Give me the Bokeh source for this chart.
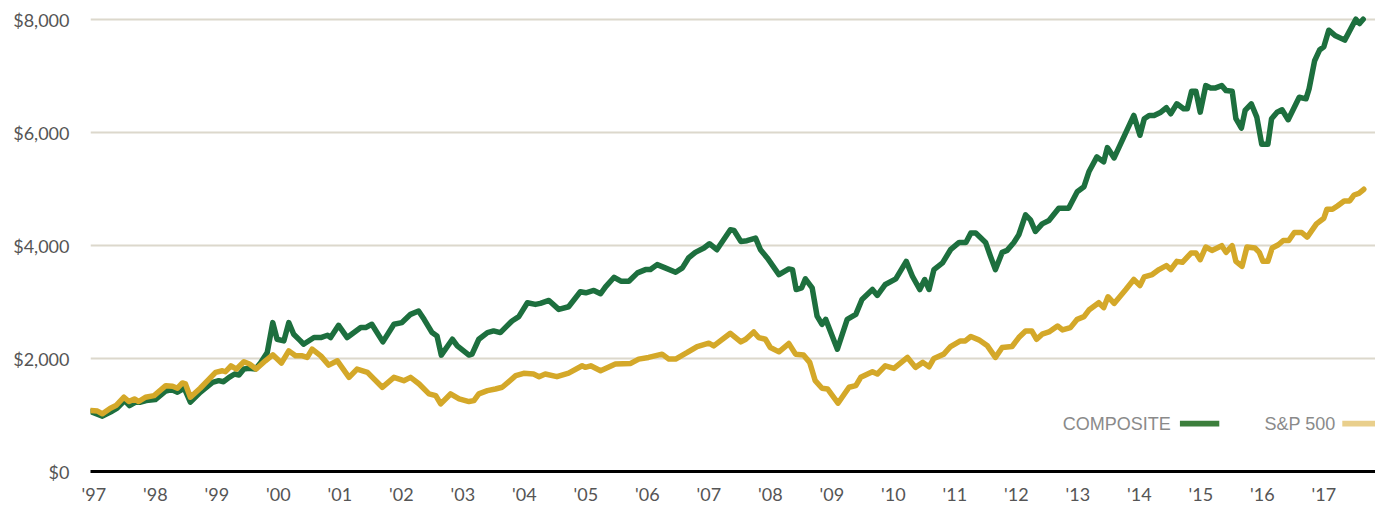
from bokeh.plotting import figure
from bokeh.models import FixedTicker, NumeralTickFormatter, Range1d, Label, BoxAnnotation, ColumnDataSource
from bokeh.embed import file_html
from bokeh.resources import INLINE

# ---------------- data (decimal year, growth of $1,000) ----------------
composite_t = [1996.95, 1997.14, 1997.27, 1997.38, 1997.50, 1997.58, 1997.68, 1997.76, 1997.85, 1998.00,
               1998.17, 1998.27, 1998.36, 1998.45, 1998.47, 1998.57, 1998.73, 1998.93, 1999.03, 1999.11,
               1999.20, 1999.29, 1999.36, 1999.44, 1999.52, 1999.63, 1999.71, 1999.82, 1999.91, 1999.98,
               2000.09, 2000.17, 2000.25, 2000.36, 2000.41, 2000.58, 2000.69, 2000.80, 2000.85, 2000.98,
               2001.12, 2001.23, 2001.34, 2001.42, 2001.52, 2001.70, 2001.88, 2002.01, 2002.15, 2002.28,
               2002.37, 2002.50, 2002.58, 2002.65, 2002.83, 2002.91, 2003.10, 2003.15, 2003.26, 2003.40,
               2003.50, 2003.61, 2003.80, 2003.91, 2004.05, 2004.18, 2004.26, 2004.40, 2004.56, 2004.72,
               2004.91, 2005.00, 2005.13, 2005.24, 2005.32, 2005.46, 2005.57, 2005.70, 2005.84, 2005.97,
               2006.05, 2006.16, 2006.29, 2006.46, 2006.57, 2006.67, 2006.78, 2006.92, 2007.01, 2007.13,
               2007.35, 2007.41, 2007.52, 2007.62, 2007.76, 2007.84, 2007.95, 2008.14, 2008.30, 2008.36,
               2008.42, 2008.51, 2008.57, 2008.68, 2008.76, 2008.84, 2008.90, 2009.09, 2009.25, 2009.39,
               2009.49, 2009.66, 2009.74, 2009.87, 2010.04, 2010.21, 2010.31, 2010.43, 2010.51, 2010.58,
               2010.66, 2010.80, 2010.93, 2011.07, 2011.18, 2011.26, 2011.34, 2011.50, 2011.58, 2011.66,
               2011.77, 2011.85, 2011.96, 2012.04, 2012.15, 2012.23, 2012.31, 2012.42, 2012.53, 2012.69,
               2012.85, 2012.99, 2013.10, 2013.18, 2013.31, 2013.42, 2013.48, 2013.59, 2013.91, 2014.01,
               2014.08, 2014.16, 2014.24, 2014.35, 2014.44, 2014.51, 2014.61, 2014.72, 2014.78, 2014.85,
               2014.92, 2014.99, 2015.08, 2015.16, 2015.24, 2015.34, 2015.41, 2015.51, 2015.57, 2015.66,
               2015.72, 2015.82, 2015.91, 2015.99, 2016.09, 2016.15, 2016.24, 2016.32, 2016.42, 2016.52,
               2016.60, 2016.71, 2016.76, 2016.85, 2016.93, 2017.00, 2017.08, 2017.19, 2017.34, 2017.52,
               2017.58, 2017.64]
composite_v = [1063, 981, 1052, 1122, 1256, 1168, 1228, 1228, 1256, 1274,
               1427, 1450, 1404, 1462, 1475, 1228, 1404, 1580, 1609, 1591,
               1668, 1727, 1709, 1815, 1827, 1815, 1921, 2109, 2638, 2343,
               2314, 2638, 2432, 2314, 2255, 2373, 2373, 2414, 2373, 2590,
               2373, 2461, 2550, 2550, 2608, 2296, 2608, 2638, 2784, 2842,
               2696, 2461, 2402, 2062, 2343, 2226, 2062, 2079, 2343, 2461,
               2490, 2461, 2667, 2743, 2990, 2960, 2978, 3031, 2872, 2919,
               3184, 3166, 3207, 3149, 3272, 3441, 3371, 3371, 3519, 3577,
               3577, 3665, 3607, 3530, 3607, 3783, 3882, 3959, 4035, 3929,
               4282, 4270, 4076, 4088, 4135, 3929, 3783, 3489, 3589, 3577,
               3224, 3254, 3413, 3254, 2754, 2608, 2696, 2167, 2696, 2784,
               3048, 3224, 3119, 3313, 3413, 3723, 3459, 3224, 3401, 3224,
               3577, 3695, 3929, 4058, 4058, 4223, 4223, 4058, 3811, 3577,
               3882, 3917, 4058, 4194, 4546, 4458, 4252, 4387, 4446, 4664,
               4664, 4957, 5045, 5309, 5573, 5485, 5738, 5556, 6308, 5956,
               6250, 6308, 6308, 6366, 6444, 6338, 6514, 6426, 6426, 6736,
               6736, 6366, 6836, 6796, 6796, 6836, 6748, 6736, 6250, 6085,
               6396, 6514, 6278, 5797, 5797, 6250, 6366, 6408, 6232, 6454,
               6630, 6602, 6778, 7277, 7466, 7524, 7818, 7718, 7642, 8012,
               7935, 8012]

sp500_t = [1996.95, 1997.06, 1997.14, 1997.27, 1997.36, 1997.49, 1997.57, 1997.66, 1997.73, 1997.84,
           1997.98, 1998.17, 1998.28, 1998.36, 1998.44, 1998.49, 1998.57, 1998.73, 1998.98, 1999.09,
           1999.14, 1999.23, 1999.32, 1999.44, 1999.53, 1999.64, 1999.79, 1999.91, 2000.05, 2000.17,
           2000.28, 2000.39, 2000.47, 2000.55, 2000.69, 2000.82, 2000.96, 2001.15, 2001.28, 2001.45,
           2001.53, 2001.69, 2001.88, 2002.04, 2002.15, 2002.29, 2002.45, 2002.56, 2002.64, 2002.80,
           2002.94, 2003.10, 2003.18, 2003.26, 2003.40, 2003.53, 2003.64, 2003.86, 2003.99, 2004.15,
           2004.24, 2004.34, 2004.53, 2004.72, 2004.94, 2004.99, 2005.08, 2005.24, 2005.48, 2005.73,
           2005.86, 2006.02, 2006.24, 2006.35, 2006.46, 2006.65, 2006.81, 2007.00, 2007.08, 2007.35,
           2007.52, 2007.60, 2007.73, 2007.81, 2007.92, 2008.00, 2008.14, 2008.30, 2008.41, 2008.54,
           2008.64, 2008.73, 2008.84, 2008.93, 2009.10, 2009.28, 2009.39, 2009.47, 2009.66, 2009.74,
           2009.87, 2010.01, 2010.23, 2010.36, 2010.48, 2010.58, 2010.66, 2010.82, 2010.93, 2011.09,
           2011.17, 2011.26, 2011.39, 2011.53, 2011.66, 2011.77, 2011.93, 2012.04, 2012.15, 2012.25,
           2012.33, 2012.42, 2012.53, 2012.67, 2012.75, 2012.88, 2012.99, 2013.10, 2013.18, 2013.34,
           2013.42, 2013.49, 2013.59, 2013.78, 2013.91, 2014.01, 2014.08, 2014.21, 2014.32, 2014.44,
           2014.51, 2014.61, 2014.70, 2014.84, 2014.92, 2014.99, 2015.08, 2015.18, 2015.34, 2015.41,
           2015.51, 2015.57, 2015.67, 2015.75, 2015.88, 2015.95, 2016.01, 2016.09, 2016.16, 2016.26,
           2016.34, 2016.43, 2016.52, 2016.64, 2016.73, 2016.88, 2017.00, 2017.05, 2017.14, 2017.22,
           2017.33, 2017.42, 2017.49, 2017.57, 2017.65]
sp500_v = [1080, 1070, 1022, 1122, 1168, 1316, 1239, 1286, 1239, 1316,
           1344, 1521, 1510, 1475, 1568, 1551, 1316, 1475, 1757, 1785,
           1767, 1873, 1815, 1944, 1903, 1815, 1961, 2067, 1921, 2137,
           2049, 2049, 2021, 2167, 2049, 1885, 1961, 1668, 1815, 1757,
           1668, 1492, 1668, 1609, 1668, 1551, 1374, 1344, 1198, 1374,
           1286, 1239, 1256, 1374, 1432, 1462, 1492, 1697, 1739, 1727,
           1680, 1727, 1680, 1744, 1873, 1845, 1873, 1785, 1903, 1915,
           1991, 2021, 2079, 1991, 1991, 2109, 2214, 2273, 2226, 2449,
           2296, 2343, 2472, 2373, 2343, 2197, 2120, 2267, 2079, 2062,
           1933, 1609, 1475, 1462, 1210, 1492, 1521, 1668, 1767, 1727,
           1873, 1827, 2021, 1845, 1933, 1855, 2003, 2079, 2214, 2314,
           2314, 2391, 2332, 2226, 2021, 2197, 2214, 2373, 2490, 2490,
           2343, 2432, 2472, 2578, 2507, 2549, 2696, 2743, 2860, 2990,
           2902, 3096, 2978, 3224, 3401, 3295, 3448, 3489, 3577, 3647,
           3577, 3723, 3706, 3870, 3870, 3753, 3977, 3917, 4000, 3882,
           4000, 3723, 3635, 3977, 3959, 3882, 3723, 3723, 3959, 4017,
           4093, 4093, 4234, 4234, 4153, 4387, 4487, 4646, 4646, 4705,
           4793, 4793, 4898, 4928, 5000]

year_ticks = list(range(1997, 2018))
year_labels = ["'97", "'98", "'99", "'00", "'01", "'02", "'03", "'04", "'05", "'06", "'07",
               "'08", "'09", "'10", "'11", "'12", "'13", "'14", "'15", "'16", "'17"]
value_ticks = [0, 2000, 4000, 6000, 8000]
series_names = ["COMPOSITE", "S&P 500"]

# ---------------- styling ----------------
GREEN = "#1d6f3e"
GOLD = "#d4a829"
GREEN_KEY = "#3c7f3c"
GOLD_KEY = "#e9cf8c"
GRID = "#dcd8cc"
LABEL = "#555555"

p = figure(width=1375, height=507, output_backend="svg", toolbar_location=None,
           x_range=Range1d(1996.946, 2017.84), y_range=Range1d(0, 8344),
           min_border_left=90, min_border_right=0, min_border_top=0, min_border_bottom=34)
p.outline_line_color = None
p.background_fill_color = "white"
p.border_fill_color = "white"

# y axis
p.yaxis.ticker = FixedTicker(ticks=value_ticks)
p.yaxis.formatter = NumeralTickFormatter(format="$0,0")
p.yaxis.axis_line_color = None
p.yaxis.major_tick_line_color = None
p.yaxis.minor_tick_line_color = None
p.yaxis.major_tick_out = 0
p.yaxis.major_label_standoff = 21
p.yaxis.major_label_text_font = "Lato"
p.yaxis.major_label_text_font_size = "18px"
p.yaxis.major_label_text_color = LABEL

# x axis
p.xaxis.ticker = FixedTicker(ticks=year_ticks)
p.xaxis.major_label_overrides = {y: lab for y, lab in zip(year_ticks, year_labels)}
p.xaxis.axis_line_color = "black"
p.xaxis.axis_line_width = 3
p.xaxis.major_tick_line_color = None
p.xaxis.minor_tick_line_color = None
p.xaxis.major_tick_out = 0
p.xaxis.major_label_standoff = 11
p.xaxis.major_label_text_font = "Lato"
p.xaxis.major_label_text_font_size = "18px"
p.xaxis.major_label_text_color = LABEL

p.xgrid.grid_line_color = None
p.ygrid.ticker = FixedTicker(ticks=value_ticks)
p.ygrid.grid_line_color = GRID
p.ygrid.grid_line_width = 2

src_c = ColumnDataSource(dict(t=composite_t, v=composite_v))
src_s = ColumnDataSource(dict(t=sp500_t, v=sp500_v))
p.line("t", "v", source=src_c, line_color=GREEN, line_width=5.5, line_join="round", line_cap="round")
p.line("t", "v", source=src_s, line_color=GOLD, line_width=5.5, line_join="round", line_cap="round")

# legend (text followed by swatch)
key_y = 847
p.add_layout(Label(x=2014.51, y=key_y, text=series_names[0], text_align="right", text_baseline="middle",
                   text_font="Liberation Sans", text_font_size="18px", text_color="#8a8a8a"))
p.add_layout(BoxAnnotation(left=2014.66, right=2015.30, bottom=key_y - 50, top=key_y + 50,
                           fill_color=GREEN_KEY, fill_alpha=1, line_color=None, level="overlay"))
p.add_layout(Label(x=2017.19, y=key_y, text=series_names[1], text_align="right", text_baseline="middle",
                   text_font="Liberation Sans", text_font_size="18px", text_color="#8a8a8a"))
p.add_layout(BoxAnnotation(left=2017.30, right=2017.84, bottom=key_y - 50, top=key_y + 50,
                           fill_color=GOLD_KEY, fill_alpha=1, line_color=None, level="overlay"))

open("out.html", "w").write(file_html(p, INLINE))
